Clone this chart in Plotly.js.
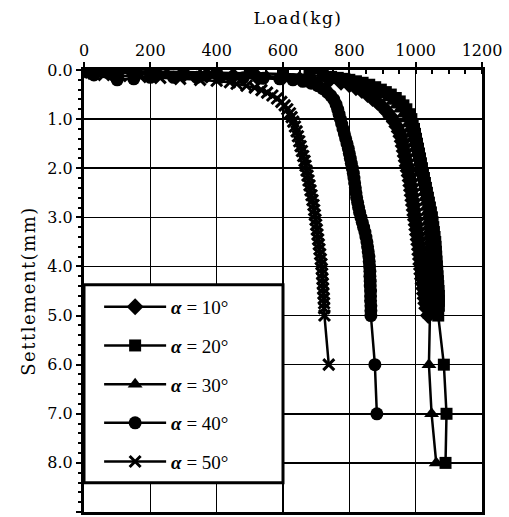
<!DOCTYPE html>
<html>
<head>
<meta charset="utf-8">
<script src="https://cdn.plot.ly/plotly-3.0.1.min.js"></script>
<style>
html,body{margin:0;padding:0;background:#fff;}
text.xtitle, text.ytitle { letter-spacing: 1.5px; }
text.xtitle { transform: translateX(15px); }
</style>
</head>
<body>
<div id="chart" style="width:509px;height:517px;"></div>
<script>
// Series names
const seriesNames = ['<b><i>α</i></b> = 10°', '<b><i>α</i></b> = 20°', '<b><i>α</i></b> = 30°', '<b><i>α</i></b> = 40°', '<b><i>α</i></b> = 50°'];
const seriesSymbols = ['diamond', 'square', 'triangle-up', 'circle', 'x-thin'];

// alpha = 10 deg
const load10 = [0,15,80,150,220,300,370,450,520,600, 680,740,775,800,820,838,855,870,885,900,
  913,925,935,943,950,955,959,962,965,968, 971,974,977,980,983,985,987,989,991,993,
  995,997,999,1001,1003,1005,1007,1009,1011,1012, 1014,1015,1017,1018,1020,1022,1024,1026,1028,1030, 1033,1038];
const settle10 = [0,0.03,0.05,0.07,0.08,0.1,0.11,0.12,0.13,0.15, 0.17,0.2,0.25,0.3,0.36,0.42,0.5,0.58,0.66,0.75,
  0.85,0.95,1.05,1.15,1.25,1.35,1.45,1.55,1.65,1.75, 1.85,1.95,2.05,2.15,2.25,2.35,2.45,2.55,2.65,2.75,
  2.85,2.95,3.05,3.15,3.25,3.35,3.45,3.55,3.65,3.75, 3.85,3.95,4.05,4.15,4.25,4.35,4.45,4.55,4.65,4.75, 4.85,5.0];

// alpha = 20 deg
const load20 = [0,100,200,300,400,500,600,680,720,745, 765,785,800,820,840,860,878,895,910,925, 940,952,963,972,981,
  987,991,995,998,1001,1004,1007,1010,1013,1016, 1019,1022,1025,1028,1031,1034,1037,1040,1043,1046,
  1049,1051,1053,1055,1057,1059,1060,1061,1062,1063, 1064,1065,1066,1067,1068,1069,1070,1070,1070,
  1068,1085,1093,1090];
const settle20 = [0,0.02,0.03,0.04,0.05,0.06,0.08,0.1,0.12,0.14, 0.16,0.18,0.2,0.23,0.26,0.3,0.35,0.4,0.45,0.5, 0.57,0.64,0.72,0.8,0.9,
  1.0,1.1,1.2,1.3,1.4,1.5,1.6,1.7,1.8,1.9, 2.0,2.1,2.2,2.3,2.4,2.5,2.6,2.7,2.8,2.9,
  3.0,3.1,3.2,3.3,3.4,3.5,3.6,3.7,3.8,3.9, 4.0,4.1,4.2,4.3,4.4,4.5,4.6,4.7,4.8,
  5.0,6.0,7.0,8.0];

// alpha = 30 deg
const load30 = [0,60,150,250,350,450,550,650,720,760, 790,815,835,855,872,888,903,917,930,942, 953,963,
  971,977,982,986,990,994,998,1002,1006,1009, 1012,1015,1018,1021,1024,1026,1028,1030,1032,1034,
  1035,1036,1037,1038,1039,1040,1041,1042,1043,1043, 1044,1044,1044,1044,1044,1044,1043,1043,1043,1043,
  1043,1040,1048,1062];
const settle30 = [0,0.03,0.05,0.07,0.09,0.1,0.12,0.14,0.16,0.18, 0.2,0.24,0.28,0.33,0.38,0.44,0.5,0.57,0.64,0.72, 0.8,0.9,
  1.0,1.1,1.2,1.3,1.4,1.5,1.6,1.7,1.8,1.9, 2.0,2.1,2.2,2.3,2.4,2.5,2.6,2.7,2.8,2.9,
  3.0,3.1,3.2,3.3,3.4,3.5,3.6,3.7,3.8,3.9, 4.0,4.1,4.2,4.3,4.4,4.5,4.6,4.7,4.8,4.9,
  5.0,6.0,7.0,8.0];

// alpha = 40 deg
const load40 = [0,30,100,150,200,270,340,410,480,540, 590,630,660,685,705,720,733,744,753,760, 765,769,
  773,777,781,785,789,793,797,800,803,806, 809,812,814,816,818,820,822,825,828,831,
  835,839,843,847,850,853,855,857,859,860, 861,862,862,863,863,864,864,864,865,865,
  865,877,883];
const settle40 = [0,0.1,0.2,0.18,0.15,0.15,0.15,0.15,0.16,0.17, 0.18,0.2,0.23,0.27,0.32,0.38,0.45,0.52,0.6,0.7, 0.8,0.9,
  1.0,1.1,1.2,1.3,1.4,1.5,1.6,1.7,1.8,1.9, 2.0,2.1,2.2,2.3,2.4,2.5,2.6,2.7,2.8,2.9,
  3.0,3.1,3.2,3.3,3.4,3.5,3.6,3.7,3.8,3.9, 4.0,4.1,4.2,4.3,4.4,4.5,4.6,4.7,4.8,4.9,
  5.0,6.0,7.0];

// alpha = 50 deg
const load50 = [0,20,60,110,170,230,290,350,400,440, 460,490,515,535,552,568,582,595,605,613,
  621,626,631,636,641,645,649,653,657,661, 665,668,671,674,677,680,683,686,689,692,
  694,696,698,700,702,704,706,708,710,712, 714,716,717,718,719,720,721,722,723,724, 724,725,738];
const settle50 = [0,0.05,0.1,0.12,0.14,0.16,0.18,0.2,0.22,0.25, 0.28,0.32,0.36,0.41,0.46,0.52,0.58,0.65,0.72,0.8,
  0.88,0.96,1.05,1.15,1.25,1.35,1.45,1.55,1.65,1.75, 1.85,1.95,2.05,2.15,2.25,2.35,2.45,2.55,2.65,2.75,
  2.85,2.95,3.05,3.15,3.25,3.35,3.45,3.55,3.65,3.75, 3.85,3.95,4.05,4.15,4.25,4.35,4.45,4.55,4.65,4.75, 4.85,5.0,6.0];

const loads = [load10, load20, load30, load40, load50];
const settles = [settle10, settle20, settle30, settle40, settle50];
const sizes = [13, 12, 13, 13, 11];

const traces = loads.map((ld, i) => {
  const isX = seriesSymbols[i] === 'x-thin';
  return {
    type: 'scatter',
    mode: 'lines+markers',
    x: ld,
    y: settles[i],
    name: seriesNames[i],
    legendgroup: 'g' + i,
    line: {color: '#000', width: 2.5},
    marker: {
      symbol: seriesSymbols[i],
      size: sizes[i],
      color: '#000',
      line: isX ? {color: '#000', width: 3} : {width: 0}
    }
  };
});

const axisFont = {family: 'DejaVu Serif', size: 16, color: '#000'};

const layout = {
  width: 509,
  height: 517,
  margin: {l: 84, r: 27, t: 70, b: 5},
  paper_bgcolor: '#fff',
  plot_bgcolor: '#fff',
  showlegend: true,
  legend: {
    x: 0.038, y: 0.507, xanchor: 'left', yanchor: 'top',
    bgcolor: 'rgba(0,0,0,0)', borderwidth: 0,
    font: {family: 'Liberation Serif', size: 19, color: '#000'},
    tracegroupgap: 11,
    itemwidth: 62
  },
  shapes: [{
    type: 'rect', xref: 'paper', yref: 'paper',
    x0: 0, x1: 0.5, y0: 0.066, y1: 0.514,
    fillcolor: '#fff', line: {color: '#000', width: 3}, layer: 'above'
  }],
  xaxis: {
    side: 'top',
    range: [0, 1200],
    dtick: 200,
    tick0: 0,
    showgrid: true,
    gridcolor: '#000',
    gridwidth: 1.5,
    showline: true,
    linecolor: '#000',
    linewidth: 3,
    mirror: true,
    ticks: 'outside',
    ticklen: 5,
    tickwidth: 2,
    tickcolor: '#000',
    tickfont: axisFont,
    zeroline: false,
    minor: {dtick: 50, ticks: 'inside', ticklen: 4, tickwidth: 2, tickcolor: '#000', showgrid: false},
    title: {text: 'Load(kg)', font: {family: 'DejaVu Serif', size: 17, color: '#000'}, standoff: 12}
  },
  yaxis: {
    range: [9, 0],
    dtick: 1,
    tick0: 0,
    tickformat: '.1f',
    showgrid: true,
    gridcolor: '#000',
    gridwidth: 1.5,
    showline: true,
    linecolor: '#000',
    linewidth: 3,
    mirror: true,
    ticks: 'outside',
    ticklen: 5,
    tickwidth: 2,
    tickcolor: '#000',
    tickfont: axisFont,
    zeroline: false,
    minor: {dtick: 0.2, ticks: 'outside', ticklen: 3, tickwidth: 2, tickcolor: '#000', showgrid: false},
    title: {text: 'Settlement(mm)', font: {family: 'DejaVu Serif', size: 18, color: '#000'}, standoff: 8}
  }
};

Plotly.newPlot('chart', traces, layout, {displayModeBar: false, staticPlot: true});
</script>
</body>
</html>
